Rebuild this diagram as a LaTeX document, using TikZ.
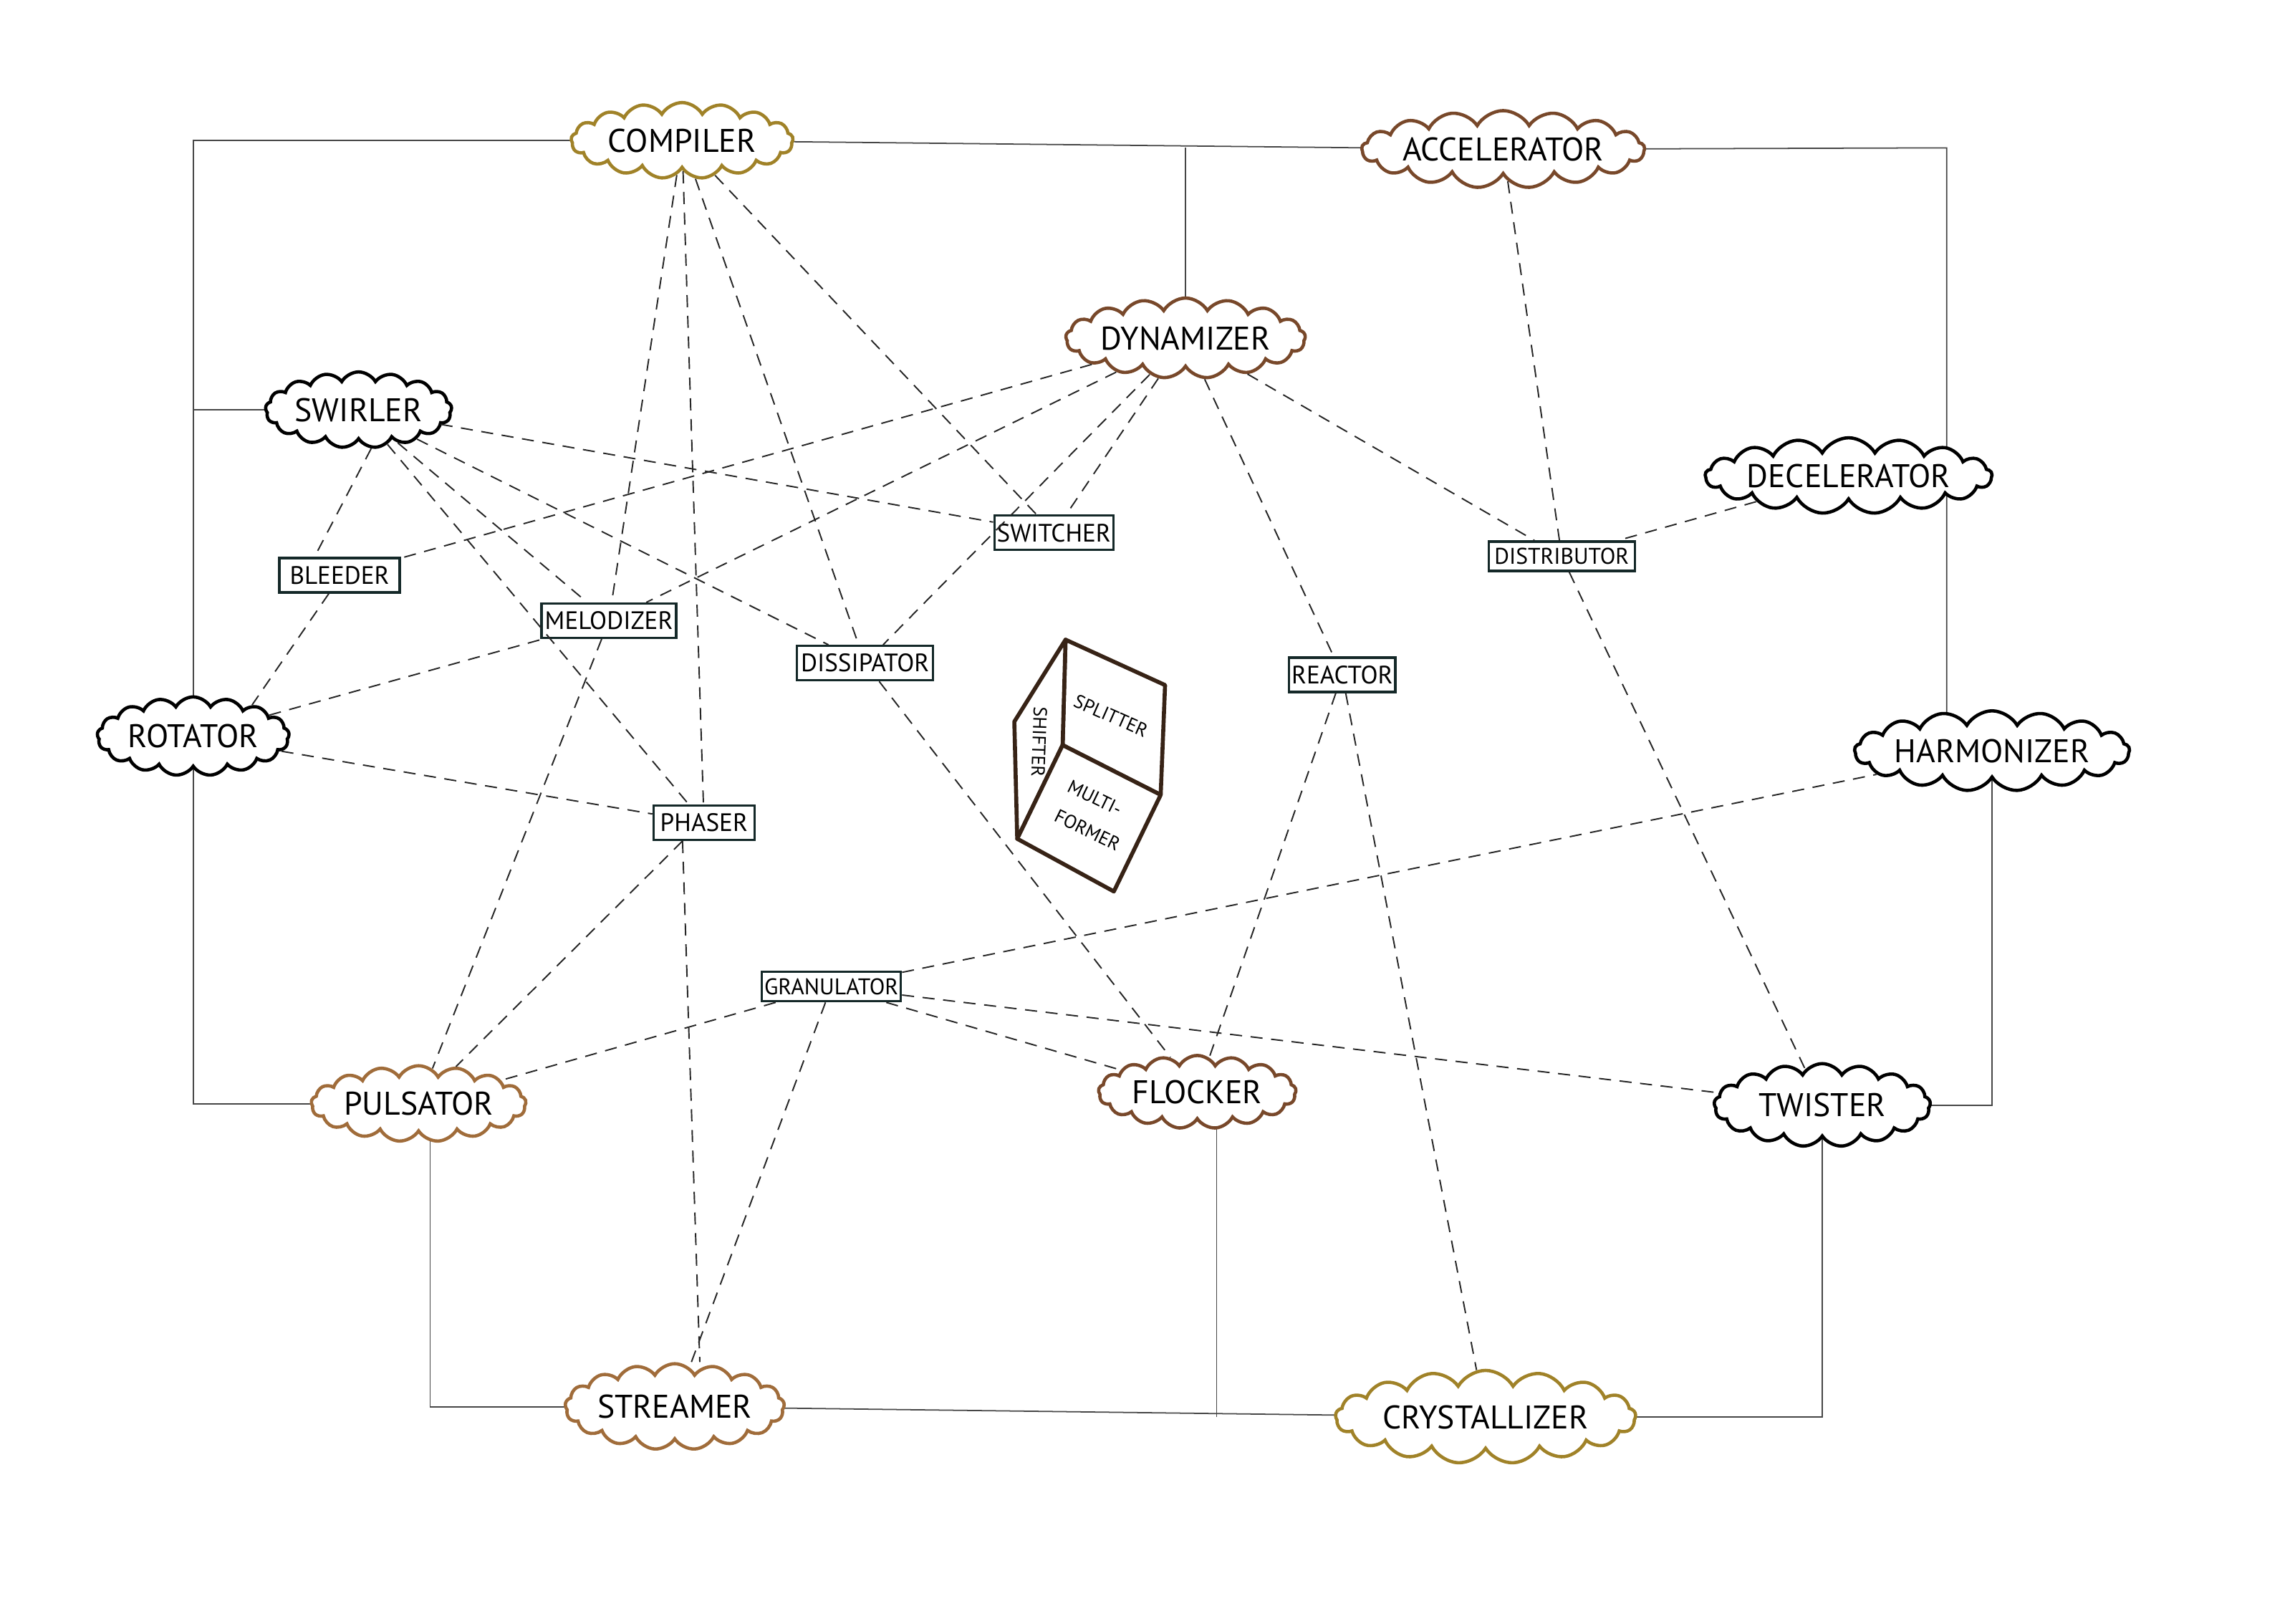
\documentclass[tikz,border=0pt]{standalone}
\usepackage{fontspec}
\newfontfamily\handfont{PT Sans}
\usetikzlibrary{shapes.symbols,backgrounds}

\definecolor{inkbrown}{RGB}{120,72,42}
\definecolor{inktan}{RGB}{160,108,58}
\definecolor{inkgold}{RGB}{160,130,40}
\definecolor{inkframe}{RGB}{70,70,70}
\definecolor{inkbox}{RGB}{20,40,40}
\definecolor{inkcube}{RGB}{55,35,22}

\tikzset{
  blob/.style 2 args={cloud, cloud puffs=17, cloud puff arc=120, cloud ignores aspect, draw, line width=1.3pt, fill=white,
    minimum width=#1, minimum height=#2, inner sep=0pt, font=\handfont\fontsize{13}{13}\selectfont},
  unitbox/.style={draw=inkbox, line width=0.9pt, fill=white, minimum width=#1, minimum height=0.48cm,
    inner sep=1pt, font=\handfont\fontsize{10}{10}\selectfont},
  link/.style={dash pattern=on 4.8pt off 3.4pt, line width=0.55pt, black!85},
  rail/.style={line width=0.5pt, inkframe},
  face/.style={draw=inkcube, line width=1.6pt, fill=white, line join=round},
  facetext/.style={font=\handfont\fontsize{7.5}{10}\selectfont, inner sep=0pt}
}

\begin{document}
\begin{tikzpicture}[x=0.02043cm, y=-0.02043cm]
				\useasboundingbox (0,0) rectangle (1568,1109);
				
				% clouds
				\node[blob={3.1cm}{1.06cm}, draw=inkgold] (compiler) at (466,96) {COMPILER};
				\node[blob={3.88cm}{1.08cm}, draw=inkbrown] (accelerator) at (1027,102) {ACCELERATOR};
				\node[blob={3.06cm}{1.12cm}, draw=inkbrown] (dynamizer) at (810,231) {DYNAMIZER};
				\node[blob={2.6cm}{1.06cm}] (swirler) at (245,280) {SWIRLER};
				\node[blob={3.8cm}{1.06cm}] (decelerator) at (1263,325) {DECELERATOR};
				\node[blob={2.68cm}{1.1cm}] (rotator) at (132,503) {ROTATOR};
				\node[blob={3.72cm}{1.12cm}] (harmonizer) at (1361,513) {HARMONIZER};
				\node[blob={3.0cm}{1.06cm}, draw=inktan] (pulsator) at (286,754) {PULSATOR};
				\node[blob={2.76cm}{1.02cm}, draw=inkbrown] (flocker) at (818,746) {FLOCKER};
				\node[blob={3.02cm}{1.16cm}] (twister) at (1245,755) {TWISTER};
				\node[blob={3.06cm}{1.2cm}, draw=inktan] (streamer) at (461,961) {STREAMER};
				\node[blob={4.19cm}{1.3cm}, draw=inkgold] (crystallizer) at (1015,968) {CRYSTALLIZER};
				
				% boxes
				\node[unitbox=1.68cm] (bleeder) at (232,393) {BLEEDER};
				\node[unitbox=1.88cm] (melodizer) at (416,424) {MELODIZER};
				\node[unitbox=1.51cm] (switcher) at (720,364) {SWITCHER};
				\node[unitbox=1.9cm] (dissipator) at (591,453) {DISSIPATOR};
				\node[unitbox=2.04cm, minimum height=0.41cm, font=\handfont\fontsize{9}{9}\selectfont] (distributor) at (1067,380) {DISTRIBUTOR};
				\node[unitbox=1.41cm] (reactor) at (917,461) {REACTOR};
				\node[unitbox=1.41cm] (phaser) at (481,562) {PHASER};
				\node[unitbox=1.92cm, minimum height=0.41cm, font=\handfont\fontsize{9}{9}\selectfont] (granulator) at (568,674) {GRANULATOR};
				
				% frame
				\coordinate (nw) at (132,96);
				\coordinate (ne) at (1330,101);
				\begin{scope}[on background layer]
					\draw[rail] (compiler.center) -- (nw) -- (rotator.center);
					\draw[rail] (swirler.center) -- (swirler.center -| nw);
					\draw[rail] (rotator.center) |- (pulsator.center);
					\draw[rail] (compiler.center) -- (accelerator.center);
					\draw[rail] (dynamizer.center) -- (dynamizer.center |- ne);
					\draw[rail] (accelerator.center) -- (ne) -- (ne |- harmonizer.center);
					\draw[rail] (harmonizer.center) |- (twister.center);
					\draw[rail] (twister.center) |- (crystallizer.center);
					\draw[rail] (crystallizer.center) -- (streamer.center);
					\draw[rail] ([xshift=0.16cm]pulsator.center) |- (streamer.center);
					\draw[rail] ([xshift=0.27cm]flocker.center) -- ([xshift=0.27cm]flocker.center |- crystallizer.center);
				\end{scope}
				
				% dashed links
				\path[link] (compiler) edge (melodizer);
				\path[link] (compiler) edge (phaser);
				\path[link] (compiler) edge (dissipator);
				\path[link] (compiler) edge (switcher);
				\path[link] (dynamizer) edge (bleeder);
				\path[link] (dynamizer) edge (melodizer);
				\path[link] (dynamizer) edge (dissipator);
				\path[link] (dynamizer) edge (switcher);
				\path[link] (dynamizer) edge (reactor);
				\path[link] (dynamizer) edge (distributor);
				\path[link] (accelerator) edge (distributor);
				\path[link] (decelerator) edge (distributor);
				\path[link] (distributor) edge (twister);
				\path[link] (swirler.-72) edge ([xshift=-0.35cm]bleeder.north);
				\path[link] (swirler) edge (melodizer);
				\path[link] (swirler) edge (dissipator);
				\path[link] (swirler) edge (switcher);
				\path[link] (swirler) edge (phaser);
				\path[link] ([xshift=-0.15cm]bleeder.south) edge (rotator.28);
				\path[link] (rotator) edge (melodizer);
				\path[link] (rotator) edge (phaser);
				\path[link] (melodizer) edge (pulsator);
				\path[link] ([xshift=-0.3cm]phaser.south) edge (pulsator);
				\path[link] ([xshift=-0.3cm]phaser.south) edge ([xshift=0.35cm]streamer.north);
				\path[link] (granulator) edge (pulsator);
				\path[link] (granulator) edge (streamer);
				\path[link] (granulator) edge (flocker);
				\path[link] (granulator) edge (twister);
				\path[link] (granulator) edge (harmonizer);
				\path[link] (dissipator) edge (flocker);
				\path[link] (reactor) edge (flocker);
				\path[link] (reactor) edge (crystallizer);
				
				% cube
				\coordinate (ctop) at (728,437);
				\coordinate (cright) at (796,468);
				\coordinate (cleft) at (693,493);
				\coordinate (cmid) at (726,509);
				\coordinate (cmidr) at (793,543);
				\coordinate (clow) at (695,573);
				\coordinate (cbot) at (761,609);
				\draw[face] (ctop) -- (cright) -- (cmidr) -- (cmid) -- cycle;
				\draw[face] (ctop) -- (cleft) -- (clow) -- (cmid) -- cycle;
				\draw[face] (cmid) -- (cmidr) -- (cbot) -- (clow) -- cycle;
				\node[facetext, rotate=-24] (splitter) at (759,489) {SPLITTER};
				\node[facetext, rotate=-92] (shifter) at (710,507) {SHIFTER};
				\node[facetext, rotate=-26] (multi) at (748,545) {MULTI-};
				\node[facetext, rotate=-26] (former) at (743,567) {FORMER};
			\end{tikzpicture}
\end{document}
